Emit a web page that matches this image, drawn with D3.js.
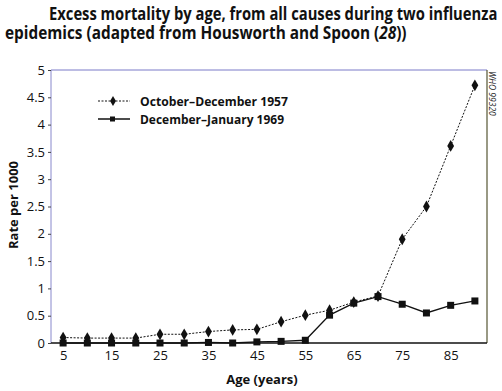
<!DOCTYPE html>
<html><head><meta charset="utf-8">
<script src="https://cdn.jsdelivr.net/npm/d3@7"></script>
<style>body{margin:0;background:#fff}text{font-family:"Open Sans","Noto Sans",sans-serif}</style>
</head><body><svg id="c" width="502" height="391"></svg>
<script>
const ages = [5,10,15,20,25,30,35,40,45,50,55,60,65,70,75,80,85,90];
const rate1957 = [0.10,0.09,0.09,0.09,0.16,0.16,0.21,0.24,0.25,0.39,0.51,0.60,0.75,0.86,1.90,2.50,3.61,4.72];
const rate1969 = [0.00,0.00,0.00,0.00,0.00,0.00,0.01,0.00,0.02,0.03,0.05,0.51,0.73,0.85,0.71,0.55,0.69,0.77];
const yTicks = [0,0.5,1,1.5,2,2.5,3,3.5,4,4.5,5];
const xTickLabels = [5,15,25,35,45,55,65,75,85];
const seriesNames = ["October–December 1957","December–January 1969"];

const svg = d3.select("#c");
const L=51,R=487,T=70,B=343;
const x = d3.scalePoint().domain(ages).range([L,R]).padding(0.5);
const y = d3.scaleLinear().domain([0,5]).range([B,T]);

// fit a text element horizontally between x0 and x1 by scaling
function fitText(g, x0, x1, base){
  const w = g.node().getBBox().width;
  const s = (x1-x0)/w;
  g.attr("transform",`translate(${x0},${base}) scale(${s},1)`);
}

// title
const g1 = svg.append("g");
g1.append("text").attr("x",0).attr("y",0).attr("font-size",17).attr("font-weight","bold").attr("fill","#111")
  .text("Excess mortality by age, from all causes during two influenza");
fitText(g1, 49, 498, 19.5);
const g2 = svg.append("g");
const t2 = g2.append("text").attr("x",0).attr("y",0).attr("font-size",17).attr("font-weight","bold").attr("fill","#111");
t2.append("tspan").text("epidemics (adapted from Housworth and Spoon (");
t2.append("tspan").attr("font-style","italic").text("28");
t2.append("tspan").text("))");
fitText(g2, 5, 407, 38.5);

// frame
svg.append("line").attr("x1",L).attr("x2",R).attr("y1",T).attr("y2",T).attr("stroke","#7a7ac8").attr("stroke-width",1);
svg.append("line").attr("x1",L).attr("x2",L).attr("y1",T).attr("y2",B).attr("stroke","#8888cc").attr("stroke-width",1);
svg.append("line").attr("x1",R).attr("x2",R).attr("y1",T).attr("y2",B).attr("stroke","#555533").attr("stroke-width",1.2);

// y axis
const ya = svg.append("g").attr("transform",`translate(${L},0)`)
  .call(d3.axisLeft(y).tickValues(yTicks).tickSize(3).tickPadding(3).tickFormat(d=>d));
ya.select(".domain").remove();
ya.selectAll("line").attr("stroke","#444");
ya.selectAll("text").attr("font-size",13).attr("fill","#111").style("font-family","'Open Sans'");

// x axis
const xa = svg.append("g").attr("transform",`translate(0,${B})`)
  .call(d3.axisBottom(x).tickValues(xTickLabels).tickSize(0).tickPadding(8));
xa.select(".domain").attr("stroke","#111").attr("stroke-width",1.5).attr("d",`M${L},0H${R}`);
xa.selectAll("text").attr("font-size",13).attr("fill","#111").style("font-family","'Open Sans'");

// axis titles
svg.append("text").attr("x",262).attr("y",384).attr("text-anchor","middle").attr("font-size",13).attr("font-weight","bold").attr("fill","#111").text("Age (years)");
svg.append("text").attr("transform","translate(18,205) rotate(-90)").attr("text-anchor","middle").attr("font-size",13).attr("font-weight","bold").attr("fill","#111").text("Rate per 1000");

// WHO label
svg.append("text").attr("transform","translate(489,71) rotate(90)").attr("font-size",8.5).attr("font-style","italic").attr("fill","#222").text("WHO 99320");

// lines
const line = d3.line().x((d,i)=>x(ages[i])).y(d=>y(d));
svg.append("path").datum(rate1957).attr("d",line).attr("fill","none").attr("stroke","#111").attr("stroke-width",1).attr("stroke-dasharray","2,1.5");
svg.append("path").datum(rate1969).attr("d",line).attr("fill","none").attr("stroke","#111").attr("stroke-width",1.3);

const diamond = d3.symbol().type(d3.symbolDiamond).size(40);
svg.selectAll(".d").data(rate1957).enter().append("path").attr("class","d")
  .attr("transform",(d,i)=>`translate(${x(ages[i])},${y(d)})`).attr("d",diamond).attr("fill","#111");
svg.selectAll(".s").data(rate1969).enter().append("rect").attr("class","s")
  .attr("x",(d,i)=>x(ages[i])-3.5).attr("y",d=>y(d)-3.5).attr("width",7).attr("height",7).attr("fill","#111");

// legend
const lg = svg.append("g");
lg.append("line").attr("x1",98).attr("x2",130).attr("y1",101).attr("y2",101).attr("stroke","#111").attr("stroke-dasharray","2,1.5");
lg.append("path").attr("transform","translate(113,101)").attr("d",d3.symbol().type(d3.symbolDiamond).size(30)).attr("fill","#111");
lg.append("text").attr("x",140).attr("y",105.5).attr("font-size",12.5).attr("font-weight","bold").attr("fill","#111")
  .attr("textLength",148).attr("lengthAdjust","spacingAndGlyphs").text(seriesNames[0]);
lg.append("line").attr("x1",98).attr("x2",130).attr("y1",119).attr("y2",119).attr("stroke","#111").attr("stroke-width",1.5);
lg.append("rect").attr("x",110).attr("y",116.5).attr("width",5).attr("height",5).attr("fill","#111");
lg.append("text").attr("x",140).attr("y",123.5).attr("font-size",12.5).attr("font-weight","bold").attr("fill","#111")
  .attr("textLength",144).attr("lengthAdjust","spacingAndGlyphs").text(seriesNames[1]);
</script></body></html>
